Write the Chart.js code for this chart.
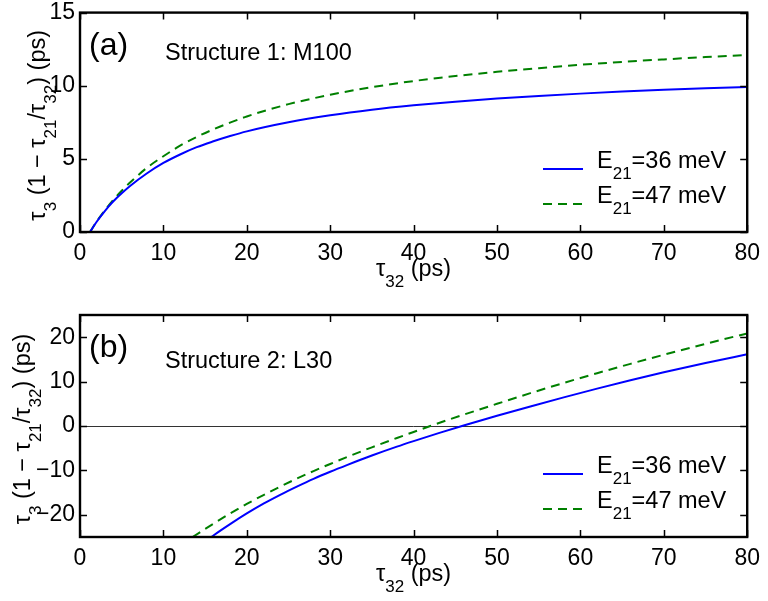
<!DOCTYPE html>
<html>
<head>
<meta charset="utf-8">
<script src="https://cdn.jsdelivr.net/npm/chart.js@4.4.0/dist/chart.umd.min.js"></script>
<style>
  body { margin: 0; background: #fff; }
  #wrap { position: relative; width: 768px; height: 601px; }
  .panel { position: absolute; left: 0; width: 768px; }
</style>
</head>
<body>
<div id="wrap">
  <div class="panel" style="top:0;height:300px"><canvas id="chartA"></canvas></div>
  <div class="panel" style="top:300px;height:301px"><canvas id="chartB"></canvas></div>
</div>
<script>
// tick values
const xTicks = [0, 10, 20, 30, 40, 50, 60, 70, 80];
const yTicksA = [0, 5, 10, 15];
const yTicksB = [-20, -10, 0, 10, 20];
const seriesNames = ['=36 meV', '=47 meV']; // shown after "E21"

// (a) Structure 1: M100 -- tau32 (ps) vs tau3(1 - tau21/tau32) (ps)
const tauA = [1.2, 2, 3, 4, 5, 6, 8, 10, 12, 14, 16, 18, 20, 25, 30, 35, 40, 45, 50, 55, 60, 65, 70, 75, 80];
const a36 = [0, 0.7, 1.45, 2.1, 2.65, 3.15, 4.0, 4.72, 5.3, 5.8, 6.2, 6.56, 6.88, 7.5, 7.98, 8.36, 8.66, 8.91, 9.12, 9.3, 9.46, 9.6, 9.72, 9.82, 9.92];
const a47 = [0, 0.72, 1.5, 2.2, 2.82, 3.38, 4.38, 5.18, 5.9, 6.5, 7.02, 7.48, 7.9, 8.74, 9.38, 9.9, 10.32, 10.66, 10.95, 11.2, 11.43, 11.63, 11.8, 11.96, 12.1];

// (b) Structure 2: L30
const tauB36 = [15.75, 16, 18, 20, 22, 24, 26, 28, 30, 32, 35, 38, 40, 43, 46, 50, 54, 58, 62, 66, 70, 75, 80];
const b36 = [-25, -24.65, -22.1, -19.7, -17.5, -15.5, -13.65, -11.9, -10.3, -8.8, -6.65, -4.65, -3.4, -1.6, 0.1, 2.3, 4.4, 6.45, 8.42, 10.3, 12.1, 14.2, 16.15];
const tauB47 = [13.5, 16, 18, 20, 22, 24, 26, 28, 30, 32, 35, 38, 40, 42, 46, 50, 54, 58, 62, 66, 70, 75, 80];
const b47 = [-25, -22.0, -19.7, -17.55, -15.55, -13.65, -11.85, -10.15, -8.55, -7.0, -4.8, -2.7, -1.35, 0, 2.55, 5.0, 7.4, 9.7, 11.9, 14.0, 16.05, 18.5, 20.85];

const FAMILY = '"Liberation Sans", Arial, Helvetica, sans-serif';
const BLUE = '#0000ff';
const GREEN = '#008000';

function pts(xs, ys) {
  return xs.map((x, i) => ({ x: x, y: ys[i] }));
}

function line(data, color, dash) {
  return {
    data: data,
    showLine: true,
    borderColor: color,
    backgroundColor: color,
    borderWidth: 2,
    borderDash: dash || [],
    pointRadius: 0,
    cubicInterpolationMode: 'monotone',
    fill: false
  };
}

// text with subscripts: plain strings are normal, [str] is a subscript
function richWidth(ctx, parts, size) {
  let w = 0;
  parts.forEach(p => {
    const sub = Array.isArray(p);
    ctx.font = (sub ? Math.round(size * 0.74) : size) + 'px ' + FAMILY;
    w += ctx.measureText(sub ? p[0] : p).width;
  });
  return w;
}
function drawRich(ctx, parts, x, y, size) {
  let cx = x;
  parts.forEach(p => {
    const sub = Array.isArray(p);
    const s = sub ? p[0] : p;
    ctx.font = (sub ? Math.round(size * 0.74) : size) + 'px ' + FAMILY;
    ctx.fillText(s, cx, sub ? y + size * 0.48 : y);
    cx += ctx.measureText(s).width;
  });
}

const xTitle = ['τ', ['32'], ' (ps)'];
const yTitle = ['τ', ['3'], ' (1 − τ', ['21'], '/τ', ['32'], ') (ps)'];

// box, inward ticks, titles, labels and legend
const decor = {
  id: 'decor',
  afterDraw(chart, args, o) {
    const ctx = chart.ctx;
    const a = chart.chartArea;
    const xs = chart.scales.x, ys = chart.scales.y;
    ctx.save();
    ctx.strokeStyle = '#000';
    ctx.fillStyle = '#000';
    ctx.lineWidth = 1.5;
    const tl = 7;
    ctx.beginPath();
    xs.ticks.forEach(t => {
      const px = Math.round(xs.getPixelForValue(t.value)) + 0.5;
      ctx.moveTo(px, a.bottom); ctx.lineTo(px, a.bottom - tl);
      ctx.moveTo(px, a.top); ctx.lineTo(px, a.top + tl);
    });
    ys.ticks.forEach(t => {
      const py = Math.round(ys.getPixelForValue(t.value)) + 0.5;
      ctx.moveTo(a.left, py); ctx.lineTo(a.left + tl, py);
      ctx.moveTo(a.right, py); ctx.lineTo(a.right - tl, py);
    });
    ctx.stroke();
    ctx.lineWidth = 2.4;
    ctx.strokeRect(a.left, a.top, a.right - a.left, a.bottom - a.top);

    ctx.textBaseline = 'alphabetic';
    ctx.textAlign = 'left';
    // x title
    const cx = (a.left + a.right) / 2;
    const wx = richWidth(ctx, xTitle, o.titleSize);
    drawRich(ctx, xTitle, cx - wx / 2, a.bottom + 44, o.titleSize);
    // y title, rotated
    const wy = richWidth(ctx, yTitle, o.titleSize);
    ctx.save();
    ctx.translate(o.yTitleX, (a.top + a.bottom) / 2 + 3);
    ctx.rotate(-Math.PI / 2);
    drawRich(ctx, yTitle, -wy / 2, 0, o.titleSize);
    ctx.restore();

    // panel tag and structure name
    ctx.font = o.tagSize + 'px ' + FAMILY;
    ctx.fillText(o.tag, 89, a.top + 42);
    ctx.font = o.nameSize + 'px ' + FAMILY;
    ctx.fillText(o.name, 165, a.top + o.nameDy);

    // legend
    const rows = [a.bottom - 63, a.bottom - 28];
    chart.data.datasets.forEach((ds, i) => {
      ctx.beginPath();
      ctx.strokeStyle = ds.borderColor;
      ctx.lineWidth = 2;
      ctx.setLineDash(ds.borderDash);
      ctx.moveTo(543, rows[i]);
      ctx.lineTo(583, rows[i]);
      ctx.stroke();
      ctx.setLineDash([]);
      ctx.fillStyle = '#000';
      drawRich(ctx, ['E', ['21'], seriesNames[i]], 597, rows[i] - 1, o.titleSize);
    });
    ctx.restore();
  }
};

function makeChart(id, datasets, yMin, yMax, yTicks, padTop, xHeight, deco) {
  return new Chart(document.getElementById(id), {
    type: 'scatter',
    data: { datasets: datasets },
    options: {
      responsive: true,
      maintainAspectRatio: false,
      animation: false,
      events: [],
      layout: { padding: { top: padTop, right: 18, left: 0, bottom: 0 } },
      plugins: { legend: { display: false }, tooltip: { enabled: false }, decor: deco },
      scales: {
        x: {
          type: 'linear', min: 0, max: 80,
          afterBuildTicks: s => { s.ticks = xTicks.map(v => ({ value: v })); },
          afterFit: s => { s.height = xHeight; },
          grid: { display: false, drawTicks: false },
          border: { display: false },
          ticks: { color: '#000', padding: 8, maxRotation: 0, font: { family: FAMILY, size: 23 } }
        },
        y: {
          type: 'linear', min: yMin, max: yMax,
          afterBuildTicks: s => { s.ticks = yTicks.map(v => ({ value: v })); },
          afterFit: s => { s.width = 80; },
          grid: {
            display: yMin < 0,
            drawTicks: false,
            lineWidth: 1,
            color: c => (c.tick && c.tick.value === 0) ? '#333' : 'rgba(0,0,0,0)'
          },
          border: { display: false },
          ticks: {
            color: '#000', padding: 5,
            font: { family: FAMILY, size: 23, lineHeight: 0.66 },
            callback: v => String(v).replace('-', '−')
          }
        }
      }
    },
    plugins: [decor]
  });
}

makeChart('chartA',
  [line(pts(tauA, a36), BLUE), line(pts(tauA, a47), GREEN, [9, 6])],
  0, 15, yTicksA, 8, 68,
  { tag: '(a)', name: 'Structure 1: M100', nameDy: 47, yTitleX: 45, titleSize: 23.5, tagSize: 32, nameSize: 23.5 });

makeChart('chartB',
  [line(pts(tauB36, b36), BLUE), line(pts(tauB47, b47), GREEN, [9, 6])],
  -25, 25, yTicksB, 15, 64,
  { tag: '(b)', name: 'Structure 2: L30', nameDy: 53, yTitleX: 30, titleSize: 23.5, tagSize: 32, nameSize: 23.5 });
</script>
</body>
</html>
